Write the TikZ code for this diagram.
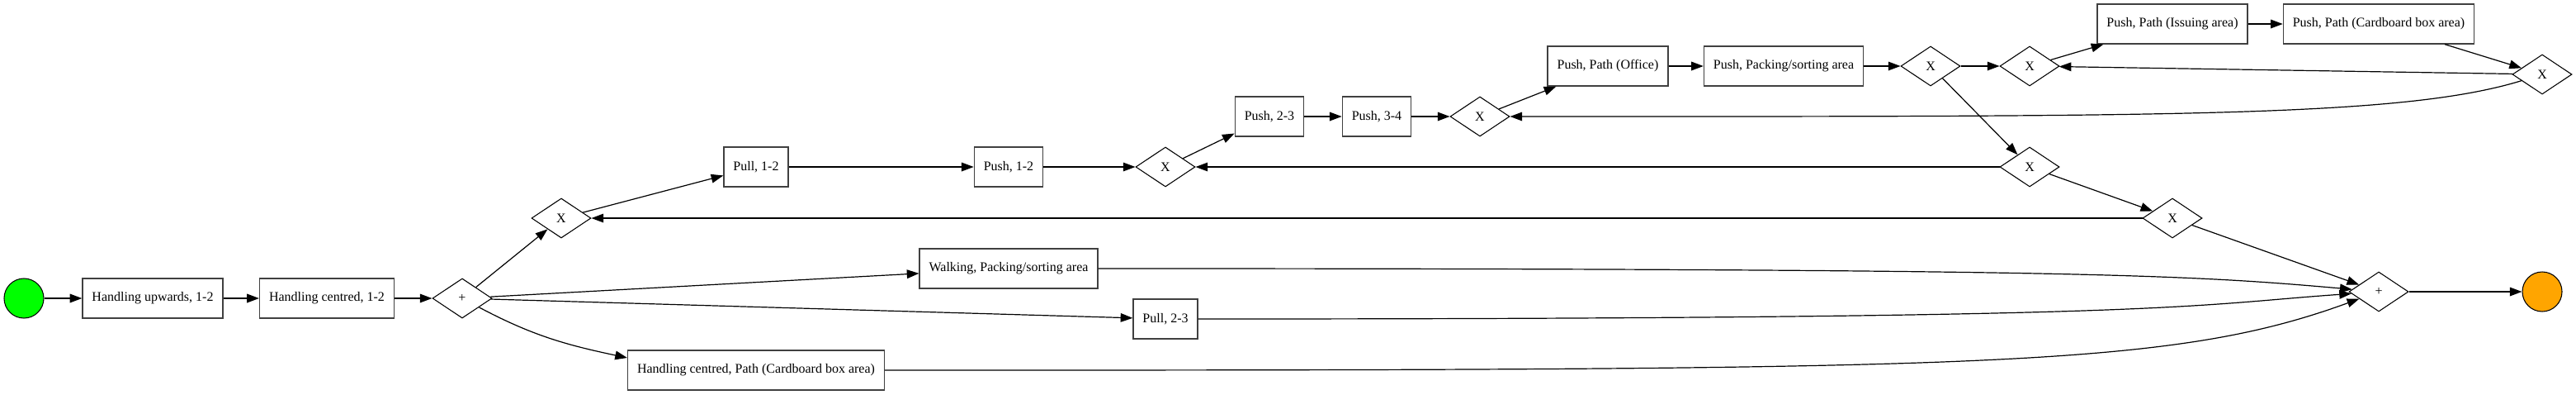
\documentclass[tikz,border=0pt]{standalone}
\usepackage{fontspec}
\setmainfont{Liberation Serif}
\usetikzlibrary{arrows.meta,positioning,shapes.geometric}
\definecolor{endorange}{HTML}{FFA500}

\begin{document}
\begin{tikzpicture}[->,>={Triangle[length=5.5pt,width=4pt]},line width=0.45pt,on grid,
  task/.style={draw=black!75,line width=0.5pt,rectangle,minimum height=18pt,inner xsep=4.3pt,font=\fontsize{6}{7}\selectfont},
  gate/.style={draw,line width=0.4pt,diamond,minimum width=27pt,minimum height=18pt,inner sep=0pt,font=\fontsize{6}{7}\selectfont},
  event/.style={draw,line width=0.4pt,circle,minimum size=18pt,inner sep=0pt}]
  \useasboundingbox (-10.875pt,-43.5pt) rectangle (1159.5pt,135.375pt);
  \node[event,fill=green] (start) {};
  \node[task] (hu) [right=58.5pt of start] {Handling upwards, 1-2};
  \node[task] (hc) [right=79.125pt of hu] {Handling centred, 1-2};
  \node[gate] (p1) [right=61.5pt of hc] {+};
  \node[gate] (x1) [above right=36.375pt and 45pt of p1] {X};
  \node[task] (pull12) [above right=23.25pt and 88.5pt of x1] {Pull, 1-2};
  \node[task] (push12) [right=114.75pt of pull12] {Push, 1-2};
  \node[gate] (x2) [right=71.25pt of push12] {X};
  \node[task] (push23) [above right=22.875pt and 47.25pt of x2] {Push, 2-3};
  \node[task] (push34) [right=48.75pt of push23] {Push, 3-4};
  \node[gate] (x3) [right=46.875pt of push34] {X};
  \node[task] (office) [above right=22.875pt and 58.125pt of x3] {Push, Path (Office)};
  \node[task] (packing) [right=79.875pt of office] {Push, Packing/sorting area};
  \node[gate] (x4) [right=66.75pt of packing] {X};
  \node[gate] (x5) [right=45pt of x4] {X};
  \node[task] (issuing) [above right=19.125pt and 64.875pt of x5] {Push, Path (Issuing area)};
  \node[task] (cardboard) [right=93.75pt of issuing] {Push, Path (Cardboard box area)};
  \node[gate] (x6) [below right=22.875pt and 74.25pt of cardboard] {X};
  \node[gate] (x7) [below=45.75pt of x5] {X};
  \node[gate] (x8) [below right=23.25pt and 64.875pt of x7] {X};
  \node[task] (walking) [above right=13.5pt and 248.25pt of p1] {Walking, Packing/sorting area};
  \node[task] (pull23) [below right=9.375pt and 319.5pt of p1] {Pull, 2-3};
  \node[task] (hcpath) [below right=32.625pt and 133.5pt of p1] {Handling centred, Path (Cardboard box area)};
  \node[gate] (p2) [below right=33.375pt and 93.75pt of x8] {+};
  \node[event,fill=endorange] (end) [right=74.25pt of p2] {};
  \path (start) edge (hu);
  \path (hu) edge (hc);
  \path (hc) edge (p1);
  \path (p1) edge (x1);
  \path (p1) edge (walking);
  \path (p1) edge (pull23);
  \path (p1) edge [out=-28,in=168] ([yshift=5.625pt]hcpath.west);
  \path (x1) edge (pull12);
  \path (pull12) edge (push12);
  \path (push12) edge (x2);
  \path (x2) edge (push23);
  \path (push23) edge (push34);
  \path (push34) edge (x3);
  \path (x3) edge (office);
  \path (office) edge (packing);
  \path (packing) edge (x4);
  \path (x4) edge (x5);
  \path (x5) edge (issuing);
  \path (issuing) edge (cardboard);
  \path (cardboard) edge (x6);
  \path (x6) edge (x5);
  \path (x6) edge [out=197,in=0,out distance=57pt,in distance=300pt] (x3);
  \path (x4) edge (x7);
  \path (x7) edge (x2);
  \path (x7) edge (x8);
  \path (x8) edge (x1);
  \path (x8) edge (p2);
  \path (walking) edge [out=0,in=175,out distance=450pt,in distance=75pt] (p2);
  \path (pull23) edge [out=0,in=184,out distance=450pt,in distance=75pt] (p2);
  \path (hcpath) edge [out=0,in=200,out distance=500pt,in distance=92.5pt] (p2);
  \path (p2) edge (end);
\end{tikzpicture}
\end{document}
